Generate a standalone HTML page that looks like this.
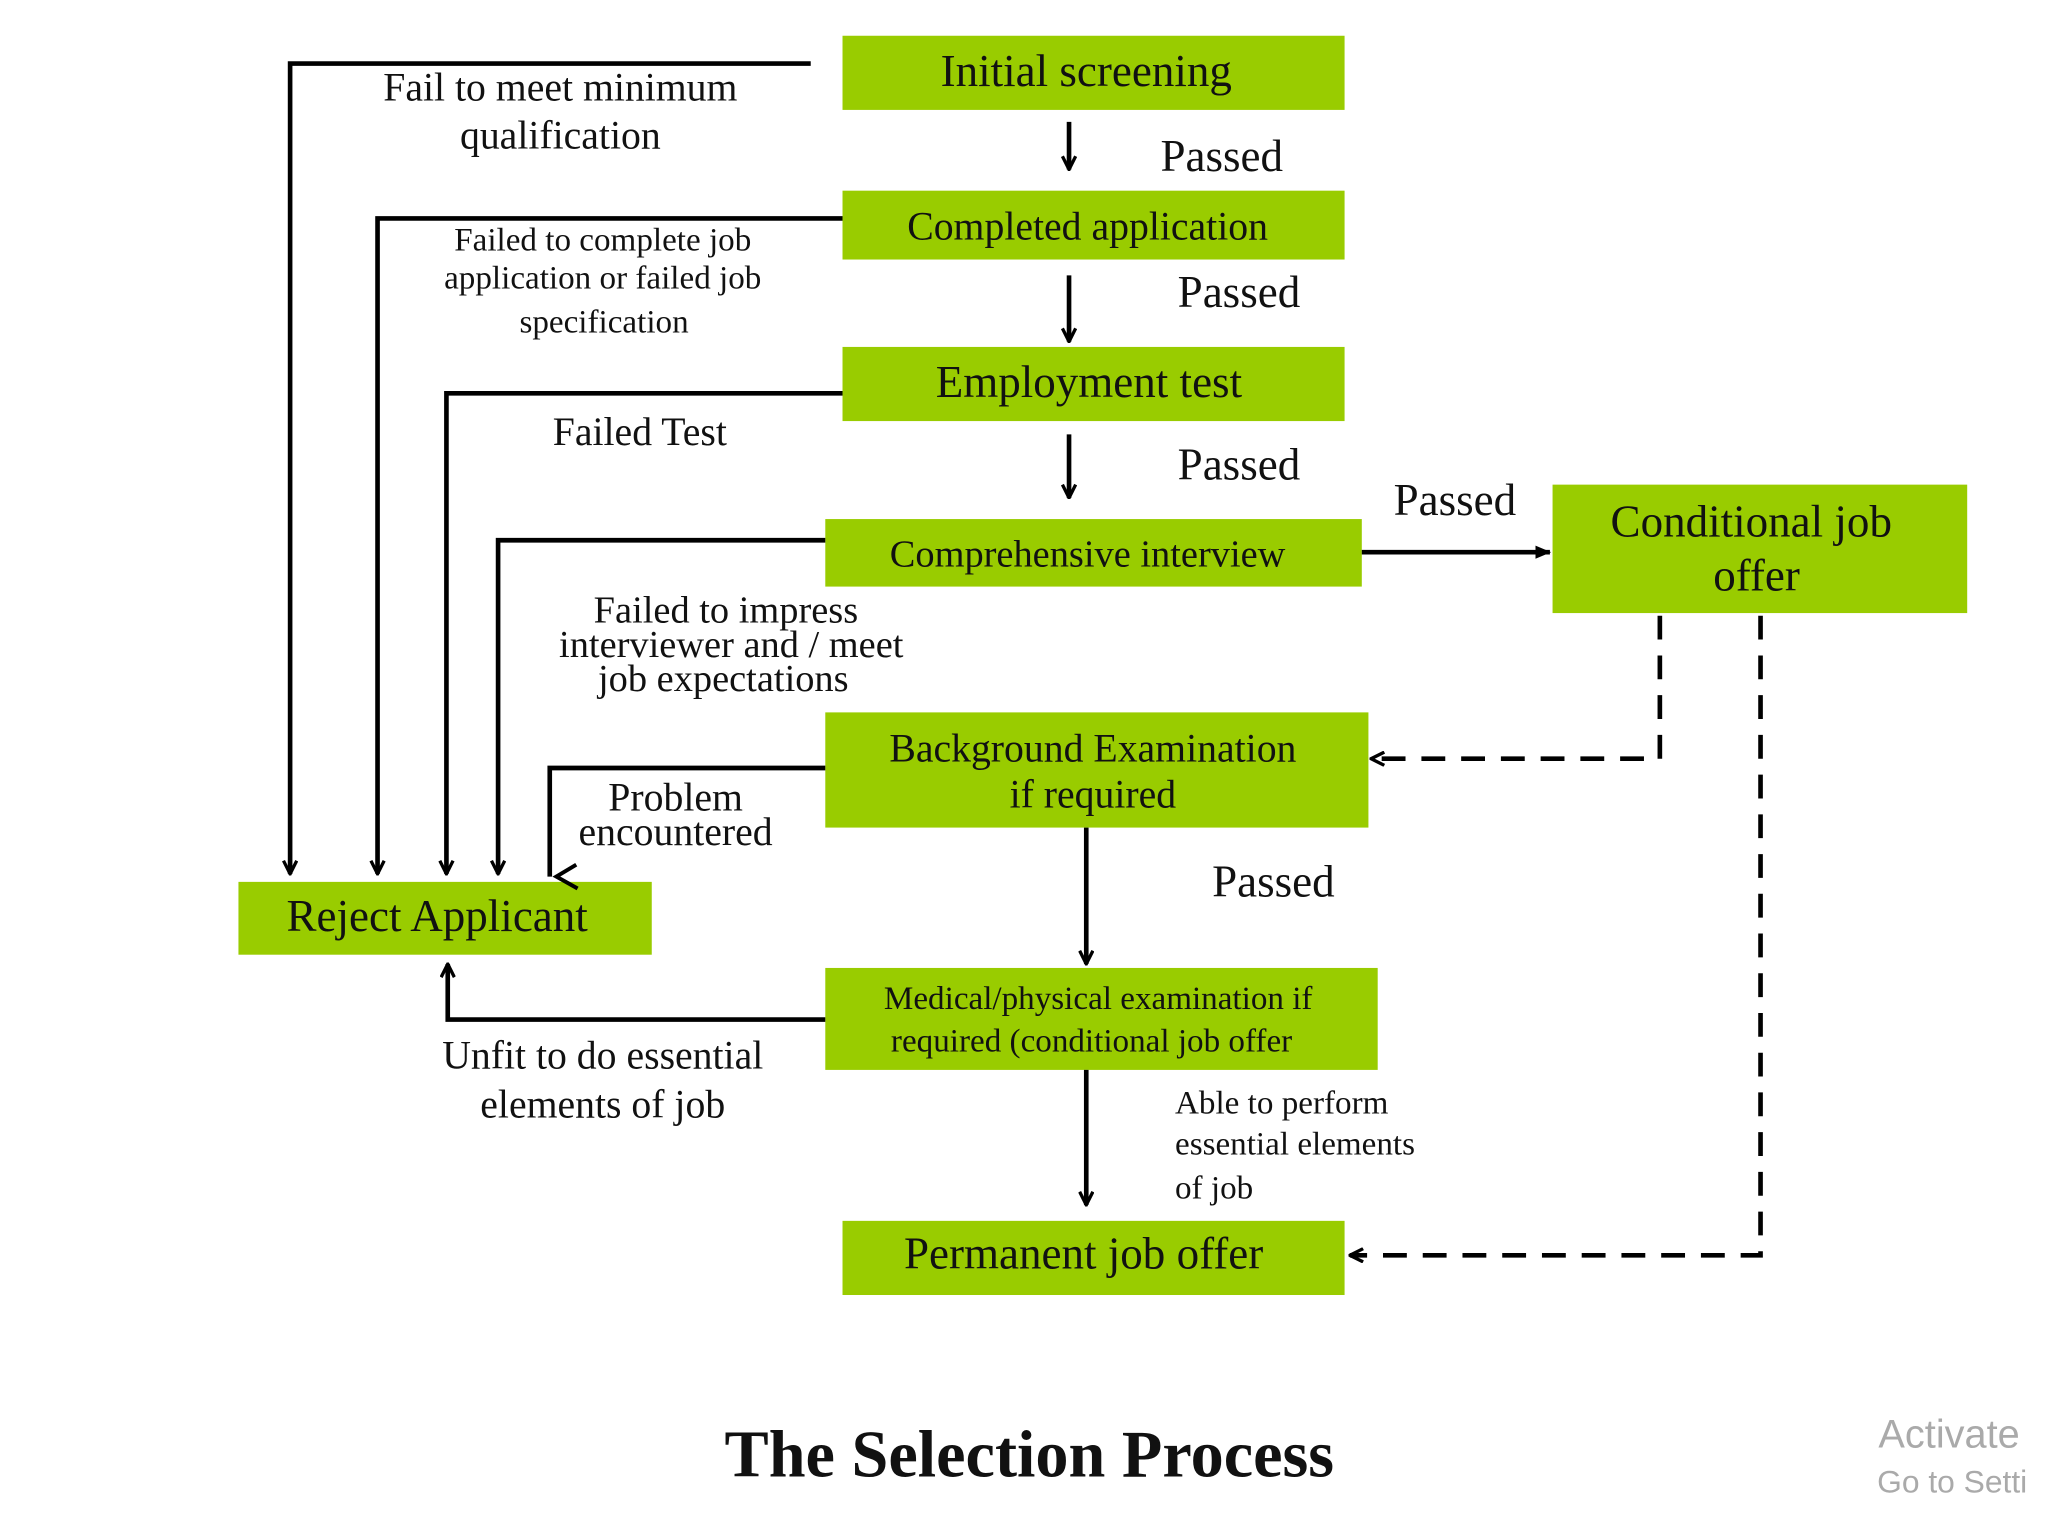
<!DOCTYPE html>
<html><head><meta charset="utf-8"><style>
html,body{margin:0;padding:0;background:#fff;}
svg{display:block;}
text{font-family:"Liberation Serif",serif;fill:#111;}
</style></head><body>
<svg width="2048" height="1536" viewBox="0 0 1546 1160" preserveAspectRatio="none" xmlns="http://www.w3.org/2000/svg">
<defs>
<marker id="a" viewBox="0 0 12 12" refX="11" refY="6" markerWidth="12" markerHeight="12" markerUnits="userSpaceOnUse" orient="auto">
<path d="M1,1 L11,6 L1,11" fill="none" stroke="#000" stroke-width="2.5"/></marker>
<marker id="t" viewBox="0 0 12 12" refX="11" refY="6" markerWidth="12" markerHeight="12" markerUnits="userSpaceOnUse" orient="auto">
<path d="M0,1 L12,6 L0,11 Z" fill="#000"/></marker>
</defs>
<g fill="#99cc00">
<rect x="636" y="27" width="379" height="56"/>
<rect x="636" y="144" width="379" height="52"/>
<rect x="636" y="262" width="379" height="56"/>
<rect x="623" y="392" width="405" height="51"/>
<rect x="1172" y="366" width="313" height="97"/>
<rect x="623" y="538" width="410" height="87"/>
<rect x="623" y="731" width="417" height="77"/>
<rect x="636" y="922" width="379" height="56"/>
<rect x="180" y="666" width="312" height="55"/>
</g>
<g fill="none" stroke="#000" stroke-width="3.5">
<line x1="807" y1="92" x2="807" y2="128" marker-end="url(#a)"/>
<line x1="807" y1="208" x2="807" y2="258" marker-end="url(#a)"/>
<line x1="807" y1="328" x2="807" y2="376" marker-end="url(#a)"/>
<line x1="1028" y1="417" x2="1170" y2="417" marker-end="url(#t)"/>
<line x1="820" y1="625" x2="820" y2="728" marker-end="url(#a)"/>
<line x1="820" y1="808" x2="820" y2="910" marker-end="url(#a)"/>
<polyline points="612,48 219,48 219,660" marker-end="url(#a)"/>
<polyline points="636,165 285,165 285,660" marker-end="url(#a)"/>
<polyline points="636,297 337,297 337,660" marker-end="url(#a)"/>
<polyline points="623,408 376,408 376,660" marker-end="url(#a)"/>
<polyline points="623,580 415,580 415,662"/>
<path d="M435,653 L420,662 L436,671" stroke-width="3"/>
<polyline points="623,770 338,770 338,728" marker-end="url(#a)"/>
<polyline points="1253,465 1253,573 1035,573" stroke-dasharray="18,12" marker-end="url(#a)"/>
<polyline points="1329,465 1329,948 1019,948" stroke-dasharray="18,12" marker-end="url(#a)"/>
</g>
<g text-anchor="middle">
<text x="820" y="65" font-size="34">Initial screening</text>
<text x="821" y="181" font-size="30">Completed application</text>
<text x="822" y="300" font-size="34">Employment test</text>
<text x="821" y="428" font-size="29">Comprehensive interview</text>
<text x="1322" y="405" font-size="34">Conditional job</text>
<text x="1326" y="446" font-size="34">offer</text>
<text x="825" y="575" font-size="30">Background Examination</text>
<text x="825" y="610" font-size="30">if required</text>
<text x="829" y="762" font-size="25">Medical/physical examination if</text>
<text x="824" y="794" font-size="25">required (conditional job offer</text>
<text x="818" y="958" font-size="34">Permanent job offer</text>
<text x="330" y="703" font-size="34">Reject Applicant</text>
<text x="423" y="76" font-size="30">Fail to meet minimum</text>
<text x="423" y="112" font-size="30">qualification</text>
<text x="455" y="189" font-size="25">Failed to complete job</text>
<text x="455" y="218" font-size="25">application or failed job</text>
<text x="456" y="251" font-size="25">specification</text>
<text x="483" y="336" font-size="30">Failed Test</text>
<text x="548" y="470" font-size="29">Failed to impress</text>
<text x="552" y="496" font-size="29">interviewer and / meet</text>
<text x="546" y="522" font-size="29">job expectations</text>
<text x="510" y="612" font-size="30">Problem</text>
<text x="510" y="638" font-size="30">encountered</text>
<text x="455" y="807" font-size="30">Unfit to do essential</text>
<text x="455" y="844" font-size="30">elements of job</text>
<text x="777" y="1115" font-size="50" font-weight="bold">The Selection Process</text>
</g>
<g font-size="34">
<text x="876" y="129">Passed</text>
<text x="889" y="232">Passed</text>
<text x="889" y="362">Passed</text>
<text x="1052" y="389">Passed</text>
<text x="915" y="677">Passed</text>
</g>
<g font-size="25">
<text x="887" y="841">Able to perform</text>
<text x="887" y="872">essential elements</text>
<text x="887" y="905">of job</text>
</g>
<text x="1418" y="1093" font-size="30" style="font-family:'Liberation Sans',sans-serif;fill:#aaa">Activate</text>
<text x="1417" y="1127" font-size="24" style="font-family:'Liberation Sans',sans-serif;fill:#aaa">Go to Setti</text>
</svg>
</body></html>
